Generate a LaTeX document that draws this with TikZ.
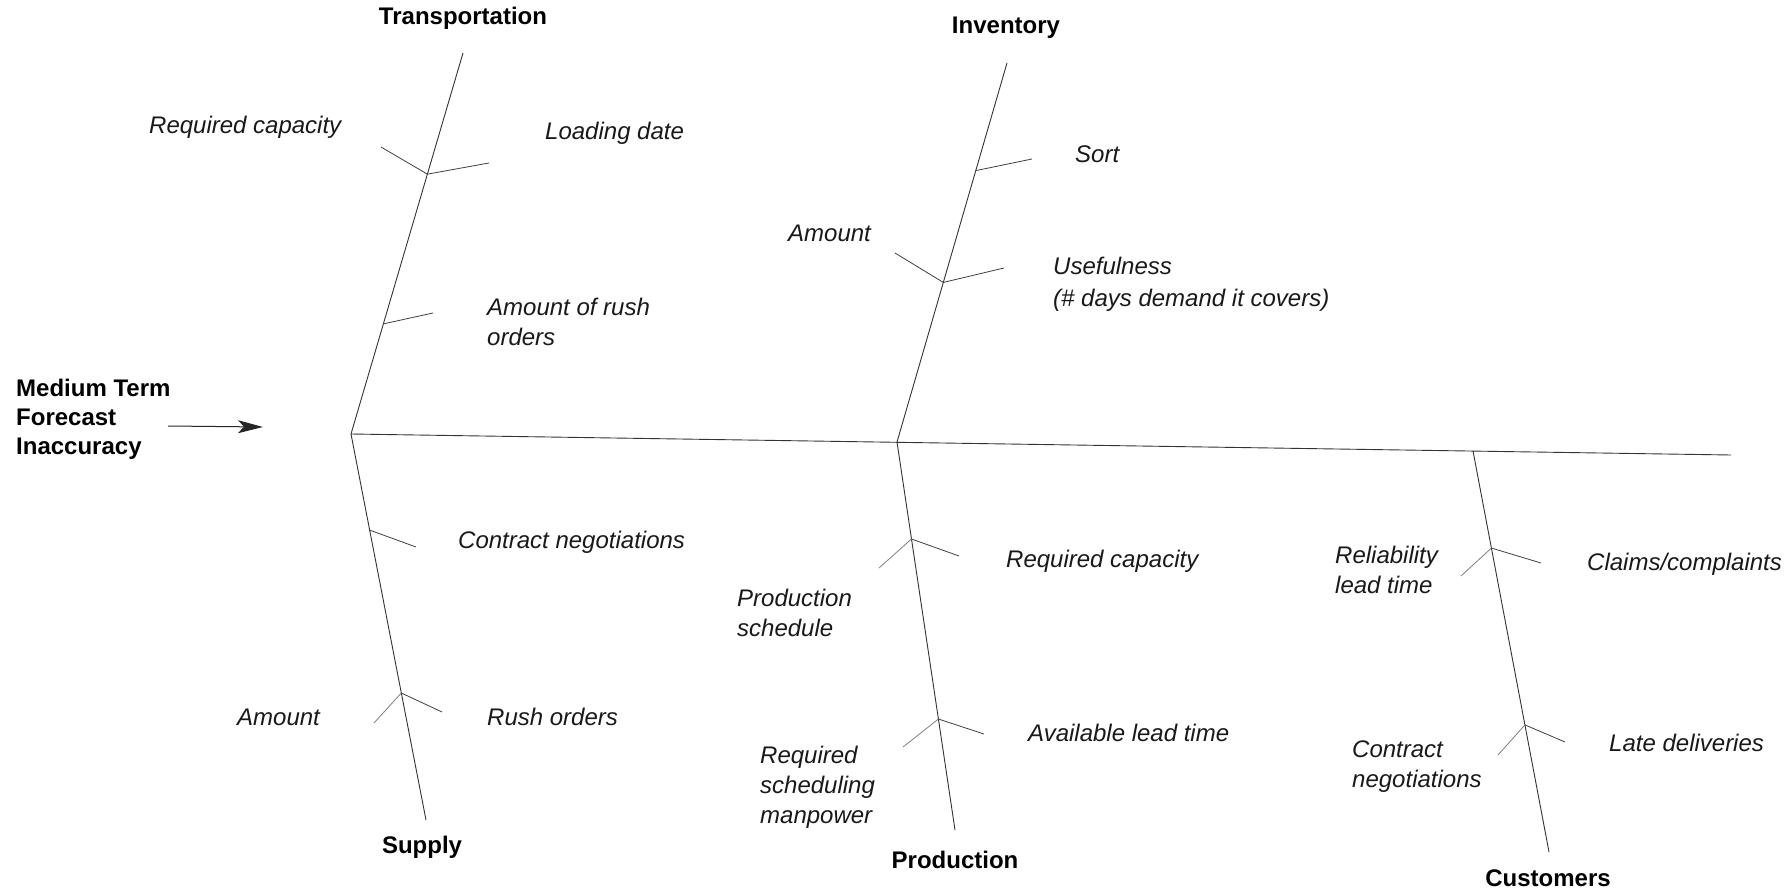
\documentclass[tikz,border=0pt]{standalone}
\usepackage{fontspec}
\setmainfont{Liberation Sans}
\usetikzlibrary{arrows.meta,calc}
\begin{document}
\begin{tikzpicture}[x=1pt,y=-1pt,
  bone/.style={draw=black!80, line width=0.9pt},
  rib/.style={draw=black!75, line width=0.8pt},
  ribl/.style={draw=black!50, line width=0.8pt},
  lbl/.style={font=\fontsize{24}{30}\selectfont\itshape, inner sep=0pt, anchor=west, align=left, text=black!90},
  head/.style={font=\fontsize{24}{30}\selectfont\bfseries, inner sep=0pt, text=black},
  effect/.style={font=\fontsize{24}{29}\selectfont\bfseries, inner sep=0pt, anchor=west, align=left, text=black},
]
\useasboundingbox[fill=white] (0,0) rectangle (1792,896);

% spine end points
\coordinate (J1) at (351,434);
\coordinate (E) at (1731,455);
\coordinate (Ttop) at (463,53);
\coordinate (Sbot) at (426,820);
\coordinate (J2) at (897,442);
\coordinate (Itop) at (1007,63);
\coordinate (Pbot) at (955,830);
\coordinate (J3) at (1473,451);
\coordinate (Cbot) at (1549,852);

% main line and spines
\draw[bone] (J1) -- (E);
\draw[bone] (Ttop) -- (J1) -- (Sbot);
\draw[bone] (Itop) -- (J2) -- (Pbot);
\draw[bone] (J3) -- (Cbot);

% junctions on spines
\coordinate (t1) at ($(Ttop)!0.318!(J1)$);
\coordinate (t2) at ($(Ttop)!0.711!(J1)$);
\coordinate (i1) at ($(Itop)!0.284!(J2)$);
\coordinate (i2) at ($(Itop)!0.579!(J2)$);
\coordinate (s1) at ($(J1)!0.249!(Sbot)$);
\coordinate (s2) at ($(J1)!0.671!(Sbot)$);
\coordinate (p1) at ($(J2)!0.25!(Pbot)$);
\coordinate (p2) at ($(J2)!0.714!(Pbot)$);
\coordinate (c1) at ($(J3)!0.242!(Cbot)$);
\coordinate (c2) at ($(J3)!0.683!(Cbot)$);

% rib ends
\coordinate (t1l) at (381,147);
\coordinate (t1r) at (489,163);
\coordinate (t2r) at (433,313);
\coordinate (i1r) at (1032,159);
\coordinate (i2l) at (895,253);
\coordinate (i2r) at (1004,268);
\coordinate (s1r) at (416,547);
\coordinate (s2l) at (374,723);
\coordinate (s2r) at (442,712);
\coordinate (p1l) at (879,568);
\coordinate (p1r) at (959,556);
\coordinate (p2l) at (903,747);
\coordinate (p2r) at (984,734);
\coordinate (c1l) at (1461,576);
\coordinate (c1r) at (1541,563);
\coordinate (c2l) at (1498,755);
\coordinate (c2r) at (1565,742);

% ribs
\draw[rib] (t1l) -- (t1) -- (t1r);
\draw[rib] (t2) -- (t2r);
\draw[rib] (i1) -- (i1r);
\draw[rib] (i2l) -- (i2) -- (i2r);
\draw[rib] (s1) -- (s1r);
\draw[ribl] (s2l) -- (s2);
\draw[rib] (s2) -- (s2r);
\draw[ribl] (p1l) -- (p1);
\draw[rib] (p1) -- (p1r);
\draw[ribl] (p2l) -- (p2);
\draw[rib] (p2) -- (p2r);
\draw[ribl] (c1l) -- (c1);
\draw[rib] (c1) -- (c1r);
\draw[ribl] (c2l) -- (c2);
\draw[rib] (c2) -- (c2r);

% category heads
\node[head] (trans) at (463,18) {Transportation};
\node[head] (inv) at (1006,28) {Inventory};
\node[head] (sup) at (422,847) {Supply};
\node[head] (prod) at (955,860) {Production};
\node[head] (cust) at (1548,878) {Customers};

% effect and arrow
\node[effect] (eff) at (16,419) {Medium Term\\Forecast\\Inaccuracy};
\coordinate (A0) at (168,426);
\coordinate (A1) at (263,427);
\draw[line width=1pt, draw=black!85, -{Stealth[length=25pt,width=13pt,inset=6pt]}] (A0) -- (A1);

% cause labels
\node[lbl] (l1) at (149,127) {Required capacity};
\node[lbl] (l2) at (545,133) {Loading date};
\node[lbl] (l3) at (487,322) {Amount of rush\\orders};
\node[lbl] (l4) at (788,233) {Amount};
\node[lbl] (l5) at (1075,154) {Sort};
\node[lbl] (l6) at (1053,284) {Usefulness\\[2pt](\# days demand it covers)};
\node[lbl] (l7) at (458,542) {Contract negotiations};
\node[lbl] (l8) at (237,717) {Amount};
\node[lbl] (l9) at (487,717) {Rush orders};
\node[lbl] (l10) at (1006,561) {Required capacity};
\node[lbl] (l11) at (737,613) {Production\\schedule};
\node[lbl] (l12) at (1028,733) {Available lead time};
\node[lbl] (l13) at (760,787) {Required\\scheduling\\manpower};
\node[lbl] (l14) at (1335,570) {Reliability\\lead time};
\node[lbl] (l15) at (1587,564) {Claims/complaints};
\node[lbl] (l16) at (1352,767) {Contract\\negotiations};
\node[lbl] (l17) at (1609,743) {Late deliveries};
\end{tikzpicture}
\end{document}
